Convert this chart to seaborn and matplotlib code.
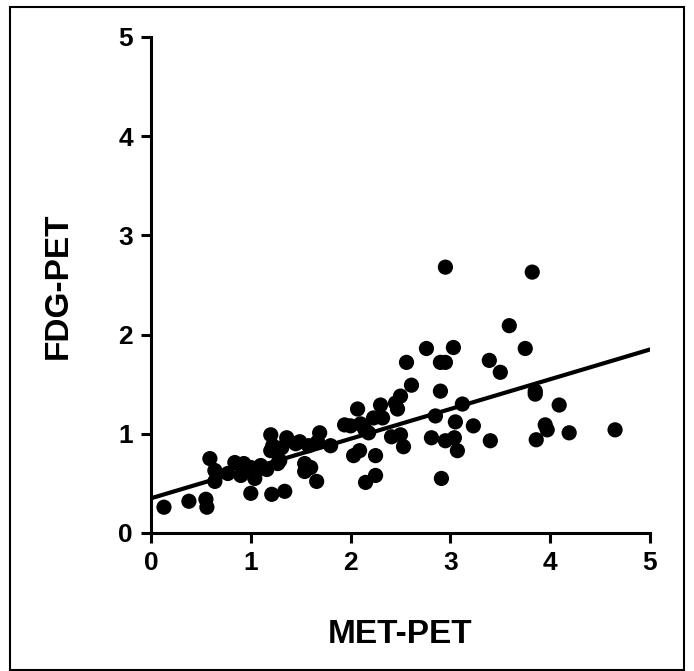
import matplotlib
matplotlib.use("Agg")
import matplotlib.pyplot as plt
import seaborn as sns
import pandas as pd
from matplotlib.patches import Rectangle

met_pet = [0.13, 0.38, 0.55, 0.56, 0.59, 0.64, 0.64, 0.77, 0.84, 0.90,
           0.93, 1.00, 1.00, 1.04, 1.07, 1.16, 1.20, 1.20, 1.21, 1.27,
           1.31, 1.34, 1.36, 1.29, 1.49, 1.54, 1.54, 1.58, 1.60, 1.66,
           1.69, 1.67, 1.80, 1.94, 2.03, 2.07, 2.09, 2.14, 2.15, 2.18,
           2.25, 2.25, 2.23, 2.30, 2.32, 2.41, 2.45, 2.47, 2.50, 2.50,
           2.53, 2.56, 2.61, 2.76, 2.81, 2.85, 2.90, 2.90, 2.91, 2.95,
           2.95, 2.95, 3.03, 3.04, 3.05, 3.07, 3.12, 3.23, 3.39, 3.40,
           3.50, 3.59, 3.75, 3.82, 3.85, 3.85, 3.86, 3.95, 3.97, 4.09,
           4.19, 4.65, 1.10, 1.22, 1.45, 2.00, 2.10]
fdg_pet = [0.26, 0.32, 0.34, 0.26, 0.75, 0.63, 0.52, 0.60, 0.71, 0.58,
           0.70, 0.66, 0.40, 0.55, 0.64, 0.64, 0.99, 0.83, 0.39, 0.70,
           0.86, 0.42, 0.96, 0.73, 0.92, 0.70, 0.62, 0.88, 0.66, 0.52,
           1.01, 0.92, 0.88, 1.09, 0.78, 1.25, 0.83, 1.05, 0.51, 1.01,
           0.58, 0.78, 1.16, 1.29, 1.16, 0.97, 1.31, 1.25, 1.38, 0.99,
           0.87, 1.72, 1.49, 1.86, 0.96, 1.18, 1.43, 1.72, 0.55, 1.72,
           2.68, 0.93, 1.87, 0.96, 1.12, 0.83, 1.30, 1.08, 1.74, 0.93,
           1.62, 2.09, 1.86, 2.63, 1.43, 1.40, 0.94, 1.09, 1.04, 1.29,
           1.01, 1.04, 0.68, 0.88, 0.90, 1.08, 1.10]

fit_x = [0.0, 5.0]
fit_y = [0.35, 1.85]

x_ticks = [0, 1, 2, 3, 4, 5]
y_ticks = [0, 1, 2, 3, 4, 5]

df = pd.DataFrame({"MET-PET": met_pet, "FDG-PET": fdg_pet})
fit = pd.DataFrame({"x": fit_x, "y": fit_y})

sns.set_theme(style="ticks")
plt.rcParams["font.family"] = ["Liberation Sans", "DejaVu Sans"]

fig = plt.figure(figsize=(6.94, 6.71), dpi=100)
ax = fig.add_axes([151 / 694, 138 / 671, 499 / 694, 496 / 671])

sns.scatterplot(data=df, x="MET-PET", y="FDG-PET", ax=ax, color="black",
                s=120, edgecolor="none", linewidth=0, clip_on=False, zorder=3)
sns.lineplot(data=fit, x="x", y="y", ax=ax, color="black", linewidth=3.0,
             zorder=2)

ax.set_xlim(0, 5)
ax.set_ylim(0, 5)
ax.set_xticks(x_ticks)
ax.set_yticks(y_ticks)
ax.set_xticklabels([str(t) for t in x_ticks])
ax.set_yticklabels([str(t) for t in y_ticks])

for side in ["top", "right"]:
    ax.spines[side].set_visible(False)
for side in ["left", "bottom"]:
    ax.spines[side].set_linewidth(2.2)
    ax.spines[side].set_color("black")

ax.tick_params(axis="both", direction="out", length=7, width=2.2,
               color="black", labelsize=19, pad=6)
for lab in ax.get_xticklabels() + ax.get_yticklabels():
    lab.set_fontweight("bold")
    lab.set_color("black")

ax.set_xlabel("MET-PET", fontsize=24, fontweight="bold", color="black")
ax.set_ylabel("FDG-PET", fontsize=24, fontweight="bold", color="black")
ax.xaxis.set_label_coords(0.499, -0.204)
ax.xaxis.label.set_va("center")
ax.yaxis.set_label_coords(-0.186, 0.498)
ax.yaxis.label.set_va("center")

fig.patches.append(Rectangle((10 / 694, 1 / 671), 674 / 694, 663 / 671,
                             transform=fig.transFigure, fill=False,
                             edgecolor="black", linewidth=1.5))

fig.savefig("out.png", dpi=100, facecolor="white")
